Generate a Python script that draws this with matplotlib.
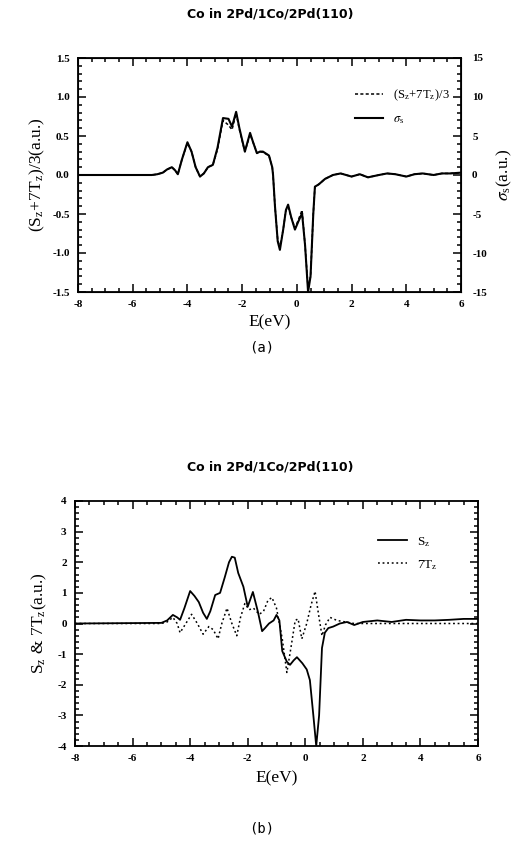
import numpy as np
import matplotlib.pyplot as plt
from matplotlib.ticker import MultipleLocator
from matplotlib.lines import Line2D

plt.rcParams["font.family"] = "Liberation Serif"
plt.rcParams["mathtext.fontset"] = "stix"

# ---- panel (a) : (S_z+7T_z)/3 (left axis) and sigma_s (right axis) ----
e_a = [-8, -5.3, -5.1, -4.9, -4.75, -4.57, -4.45, -4.35, -4.2, -4.0, -3.85, -3.7,
       -3.54, -3.4, -3.25, -3.07, -2.9, -2.7, -2.5, -2.37, -2.22, -2.1, -1.9,
       -1.71, -1.6, -1.46, -1.35, -1.24, -1.02, -0.9, -0.87, -0.8, -0.7, -0.62,
       -0.5, -0.4, -0.32, -0.2, -0.07, 0.05, 0.19, 0.3, 0.41, 0.5, 0.6, 0.66,
       0.8, 1.03, 1.32, 1.6, 2.0, 2.3, 2.6, 3.0, 3.3, 3.6, 4.0, 4.3, 4.6, 5.0,
       5.3, 5.6, 6.0]
sigma_s = [0, 0, 0.1, 0.3, 0.7, 1.0, 0.6, 0.1, 2.0, 4.2, 3.0, 1.0,
           -0.2, 0.2, 1.0, 1.3, 3.5, 7.3, 7.2, 6.2, 8.1, 6.0, 3.0,
           5.4, 4.2, 2.8, 3.0, 3.0, 2.5, 1.0, 0.0, -4.0, -8.5, -9.6,
           -7.0, -4.5, -3.8, -5.5, -7.0, -6.0, -4.9, -9.0, -15.0, -13.0, -5.0, -1.5,
           -1.2, -0.5, 0.0, 0.2, -0.2, 0.1, -0.3, 0.0, 0.2, 0.1, -0.2, 0.1, 0.2, 0.0,
           0.2, 0.2, 0.3]
s7t_3 = [0, 0, 0.01, 0.03, 0.07, 0.10, 0.06, 0.01, 0.2, 0.41, 0.3, 0.1,
         -0.02, 0.02, 0.1, 0.13, 0.33, 0.7, 0.64, 0.58, 0.79, 0.58, 0.3,
         0.52, 0.42, 0.28, 0.3, 0.29, 0.25, 0.1, 0.0, -0.4, -0.83, -0.93,
         -0.7, -0.45, -0.41, -0.55, -0.68, -0.58, -0.45, -0.9, -1.45, -1.3, -0.5, -0.15,
         -0.12, -0.05, 0.0, 0.02, -0.02, 0.01, -0.03, 0.0, 0.02, 0.01, -0.02, 0.01, 0.02, 0.0,
         0.02, 0.02, 0.03]

# ---- panel (b) : S_z and 7T_z ----
e_sz = [-8, -5.0, -4.8, -4.6, -4.45, -4.35, -4.2, -4.0, -3.85, -3.7, -3.55, -3.42,
        -3.3, -3.13, -2.96, -2.8, -2.65, -2.55, -2.45, -2.33, -2.15, -2.0, -1.82,
        -1.65, -1.5, -1.4, -1.26, -1.1, -1.0, -0.9, -0.8, -0.64, -0.53, -0.4,
        -0.29, -0.1, 0.05, 0.16, 0.28, 0.38, 0.48, 0.58, 0.68, 0.8, 0.97, 1.2,
        1.45, 1.7, 2.0, 2.5, 3.0, 3.5, 4.0, 4.5, 5.0, 5.5, 6.0]
s_z = [0, 0.02, 0.1, 0.28, 0.2, 0.12, 0.5, 1.06, 0.9, 0.7, 0.35, 0.15,
       0.4, 0.93, 1.0, 1.5, 2.0, 2.18, 2.15, 1.65, 1.2, 0.55, 1.03,
       0.4, -0.25, -0.15, 0.0, 0.1, 0.28, 0.1, -0.9, -1.25, -1.35, -1.2,
       -1.1, -1.3, -1.5, -1.85, -3.0, -4.0, -3.0, -0.8, -0.3, -0.15, -0.1, 0.0,
       0.05, -0.05, 0.05, 0.1, 0.05, 0.12, 0.1, 0.1, 0.12, 0.15, 0.15]

e_tz = [-8, -5.0, -4.8, -4.6, -4.45, -4.35, -4.15, -3.95, -3.75, -3.55, -3.35,
        -3.2, -3.03, -2.9, -2.72, -2.55, -2.38, -2.25, -2.1, -1.95, -1.8, -1.6,
        -1.45, -1.3, -1.16, -1.0, -0.8, -0.64, -0.5, -0.35, -0.25, -0.12, 0.05,
        0.2, 0.34, 0.46, 0.58, 0.7, 0.86, 1.1, 1.4, 1.7, 6.0]
t7_z = [0, 0, 0.05, 0.2, 0.0, -0.3, 0.0, 0.3, 0.0, -0.35, -0.1,
        -0.2, -0.5, 0.0, 0.5, 0.0, -0.4, 0.2, 0.65, 0.45, 0.5, 0.3,
        0.4, 0.75, 0.85, 0.5, -0.5, -1.6, -0.8, 0.1, 0.15, -0.5, 0.0,
        0.6, 1.05, 0.3, -0.4, -0.05, 0.2, 0.1, 0.05, 0.0, 0.0]

title = "Co in 2Pd/1Co/2Pd(110)"
xt = [-8, -6, -4, -2, 0, 2, 4, 6]

fig = plt.figure(figsize=(5.22, 8.41), dpi=100)


def style_axis(ax, ymaj, ymin, right=True):
    ax.set_xlim(-8, 6)
    ax.xaxis.set_major_locator(MultipleLocator(2))
    ax.xaxis.set_minor_locator(MultipleLocator(0.5))
    ax.yaxis.set_major_locator(MultipleLocator(ymaj))
    ax.yaxis.set_minor_locator(MultipleLocator(ymin))
    ax.tick_params(which="both", direction="in", top=True, right=right,
                   labelsize=8, width=1.1)
    ax.tick_params(which="major", length=6, pad=6)
    ax.tick_params(which="minor", length=3)
    for sp in ax.spines.values():
        sp.set_linewidth(1.3)


# panel (a)
ax1 = fig.add_axes([78 / 522, 1 - 292 / 841, 383 / 522, 234 / 841])
ax1.plot(e_a, s7t_3, color="black", lw=1.1, ls=(0, (2, 1.5)))
ax1.set_ylim(-1.5, 1.5)
style_axis(ax1, 0.5, 0.1, right=False)
ax1.set_yticks([-1.5, -1.0, -0.5, 0.0, 0.5, 1.0, 1.5])
ax1.set_yticklabels(["-1.5", "-1.0", "-0.5", "0.0", "0.5", "1.0", "1.5"], fontweight="bold")
ax1.set_xticks(xt)
ax1.set_xticklabels([str(v) for v in xt], fontweight="bold")
ax1.set_xlabel("E(eV)", fontsize=12.5, labelpad=4)
ax1.set_ylabel(r"(S$_\mathregular{z}$+7T$_\mathregular{z}$)/3(a.u.)", fontsize=12.5, labelpad=4)

ax1r = ax1.twinx()
ax1r.plot(e_a, sigma_s, color="black", lw=1.5)
ax1r.set_ylim(-15, 15)
ax1r.yaxis.set_major_locator(MultipleLocator(5))
ax1r.yaxis.set_minor_locator(MultipleLocator(1))
ax1r.tick_params(which="both", direction="in", labelsize=8, width=1.1)
ax1r.tick_params(which="major", length=6, pad=8)
ax1r.tick_params(which="minor", length=3)
ax1r.set_yticks([-15, -10, -5, 0, 5, 10, 15])
ax1r.set_yticklabels(["-15", "-10", "-5", "0", "5", "10", "15"], fontweight="bold")
ax1r.set_ylabel(r"$\sigma_\mathregular{s}$(a.u.)", fontsize=12.5, labelpad=6)

h1 = [Line2D([], [], color="black", lw=1.1, ls=(0, (2, 1.5))),
      Line2D([], [], color="black", lw=1.5)]
ax1r.legend(h1, [r"(S$_\mathregular{z}$+7T$_\mathregular{z}$)/3", r"$\sigma_\mathregular{s}$"],
            loc="upper right", bbox_to_anchor=(1.0, 0.92), frameon=False,
            fontsize=9, handlelength=2.2, labelspacing=0.8)

fig.text(270 / 522, 1 - 14 / 841, title, ha="center", va="center",
         fontsize=9, fontweight="bold", family="DejaVu Sans")
fig.text(262 / 522, 1 - 348 / 841, "(a)", ha="center", va="center",
         fontsize=10, family="DejaVu Sans Mono")

# panel (b)
ax2 = fig.add_axes([75 / 522, 1 - 746 / 841, 403 / 522, 245 / 841])
ax2.plot(e_sz, s_z, color="black", lw=1.3, label=r"S$_\mathregular{z}$")
ax2.plot(e_tz, t7_z, color="black", lw=1.1, ls=(0, (1.2, 1.8)), label=r"7T$_\mathregular{z}$")
ax2.set_ylim(-4, 4)
style_axis(ax2, 1, 0.2)
ax2.set_yticks([-4, -3, -2, -1, 0, 1, 2, 3, 4])
ax2.set_yticklabels(["-4", "-3", "-2", "-1", "0", "1", "2", "3", "4"], fontweight="bold")
ax2.set_xticks(xt)
ax2.set_xticklabels([str(v) for v in xt], fontweight="bold")
ax2.set_xlabel("E(eV)", fontsize=12.5, labelpad=5)
ax2.set_ylabel(r"S$_\mathregular{z}$ & 7T$_\mathregular{z}$(a.u.)", fontsize=12.5, labelpad=6)
ax2.legend(loc="upper right", bbox_to_anchor=(0.93, 0.91), frameon=False,
           fontsize=9.5, handlelength=2.2, labelspacing=0.7)

fig.text(270 / 522, 1 - 467 / 841, title, ha="center", va="center",
         fontsize=9, fontweight="bold", family="DejaVu Sans")
fig.text(262 / 522, 1 - 828 / 841, "(b)", ha="center", va="center",
         fontsize=10, family="DejaVu Sans Mono")

fig.savefig("out.png", dpi=100)
